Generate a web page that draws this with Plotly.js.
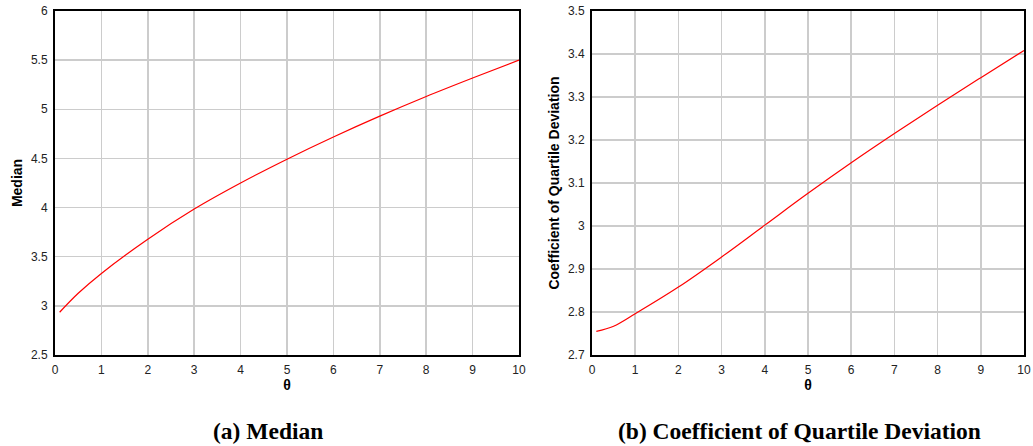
<!DOCTYPE html>
<html>
<head>
<meta charset="utf-8">
<script src="https://cdn.plot.ly/plotly-3.0.1.min.js"></script>
<style>
html,body{margin:0;padding:0;background:#fff;}
#chart{width:1033px;height:446px;}
</style>
</head>
<body>
<div id="chart"></div>
<script>
// theta values
var thetaValues = [0.1, 0.5, 1, 2, 3, 4, 5, 6, 7, 8, 9, 10];
// Median (a)
var medianValues = [2.935, 3.128, 3.33, 3.678, 3.985, 4.25, 4.492, 4.718, 4.93, 5.13, 5.318, 5.5];
// Coefficient of Quartile Deviation (b)
var cqdValues = [2.755, 2.767, 2.796, 2.858, 2.928, 3.002, 3.076, 3.147, 3.215, 3.281, 3.345, 3.408];

var xTickVals = [0,1,2,3,4,5,6,7,8,9,10];
var yTickValsA = [2.5,3,3.5,4,4.5,5,5.5,6];
var yTickTextA = ['2.5','3','3.5','4','4.5','5','5.5','6'];
var yTickValsB = [2.7,2.8,2.9,3,3.1,3.2,3.3,3.4,3.5];
var yTickTextB = ['2.7','2.8','2.9','3','3.1','3.2','3.3','3.4','3.5'];

var W = 1033, H = 446;
function fx(px){return px/W;}
function fy(py){return 1-py/H;}

var tickFont = {family:'Arial, Liberation Sans, sans-serif', size:12, color:'#222'};
var titleFont = {family:'Arial, Liberation Sans, sans-serif', size:14, color:'#000'};

function xaxisDef(dom, anchor){
  return {
    domain: dom, anchor: anchor, range:[0,10], tickvals: xTickVals,
    showgrid:true, gridcolor:'#cccccc', gridwidth:1.5,
    showline:true, linecolor:'#000', linewidth:2, mirror:true,
    ticks:'outside', ticklen:3, tickcolor:'rgba(0,0,0,0)',
    tickfont: tickFont, zeroline:false,
    title:{text:'<b>θ</b>', font:titleFont, standoff:1}
  };
}
function yaxisDef(dom, anchor, range, tv, tt, title){
  return {
    domain: dom, anchor: anchor, range: range, tickvals: tv, ticktext: tt,
    showgrid:true, gridcolor:'#cccccc', gridwidth:1.5,
    showline:true, linecolor:'#000', linewidth:2, mirror:true,
    ticks:'outside', ticklen:3, tickcolor:'rgba(0,0,0,0)',
    tickfont: tickFont, zeroline:false,
    title:{text:'<b>'+title+'</b>', font:titleFont, standoff:5}
  };
}

var traces = [
  {x: thetaValues, y: medianValues, type:'scatter', mode:'lines',
   line:{color:'#ff0000', width:1.2, shape:'spline', smoothing:1}, xaxis:'x', yaxis:'y', hoverinfo:'skip'},
  {x: thetaValues, y: cqdValues, type:'scatter', mode:'lines',
   line:{color:'#ff0000', width:1.2, shape:'spline', smoothing:1}, xaxis:'x2', yaxis:'y2', hoverinfo:'skip'}
];

var yDom = [fy(355), fy(11)];
var capFont = {family:'Liberation Serif, Times New Roman, serif', size:23.5, color:'#000'};
var layout = {
  width: W, height: H,
  margin:{l:0, r:0, t:0, b:0},
  paper_bgcolor:'#fff', plot_bgcolor:'#fff',
  showlegend:false,
  xaxis: xaxisDef([fx(55), fx(519)], 'y'),
  yaxis: yaxisDef(yDom, 'x', [2.5,6], yTickValsA, yTickTextA, 'Median'),
  xaxis2: xaxisDef([fx(592), fx(1024)], 'y2'),
  yaxis2: yaxisDef(yDom, 'x2', [2.7,3.5], yTickValsB, yTickTextB, 'Coefficient of Quartile Deviation'),
  annotations:[
    {text:'<b>(a) Median</b>', xref:'paper', yref:'paper', x:fx(268), y:fy(431), showarrow:false,
     font:capFont, xanchor:'center', yanchor:'middle'},
    {text:'<b>(b) Coefficient of Quartile Deviation</b>', xref:'paper', yref:'paper', x:fx(799), y:fy(431), showarrow:false,
     font:capFont, xanchor:'center', yanchor:'middle'}
  ]
};

Plotly.newPlot('chart', traces, layout, {staticPlot:true, displayModeBar:false});
</script>
</body>
</html>
